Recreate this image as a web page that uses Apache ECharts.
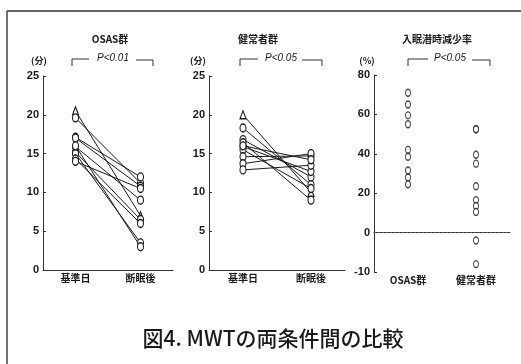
<!DOCTYPE html>
<html><head><meta charset="utf-8">
<script src="https://cdn.jsdelivr.net/npm/echarts@6/dist/echarts.min.js"></script>
<style>html,body{margin:0;padding:0;background:#fff}#c{width:521px;height:364px}</style>
</head><body><div id="c"></div>
<script>
const dayCategories = ['基準日', '断眠後'];
const groupCategories = ['OSAS群', '健常者群'];
const osasBase = [20.5, 19.6, 17.1, 17.0, 15.9, 15.2, 15.0, 14.3, 14.0, 16.0];
const osasAfter = [7.0, 11.2, 12.0, 10.8, 9.0, 6.5, 3.5, 6.0, 10.5, 3.0];
const healthyBase = [20.0, 18.3, 16.8, 16.4, 15.9, 15.5, 14.6, 13.7, 12.9, 16.0];
const healthyAfter = [10.0, 11.0, 12.0, 9.0, 12.7, 10.5, 14.7, 15.0, 13.5, 14.2];
const osasRate = [71, 65, 59.5, 55, 42, 38.5, 31.5, 28, 24.5];
const healthyRate = [52.5, 52.5, 39.5, 35, 23.5, 16.5, 13.5, 10.5, -4, -16];
const minTicks = [0, 5, 10, 15, 20, 25];
const pctTickValues = [-20, 0, 20, 40, 60, 80];
const pctTickLabels = ['-10', '0', '20', '40', '60', '80'];

const CJK = '"Noto Sans CJK JP", sans-serif';
const LAT = '"Liberation Sans", Arial, sans-serif';
const ink = '#1a1a1a';

function xAx(gi, cats) {
  return {
    type: 'category', gridIndex: gi, data: cats, boundaryGap: true,
    axisLine: { lineStyle: { color: '#333', width: 1 } },
    axisTick: { inside: true, length: 4, lineStyle: { color: '#333' } },
    axisLabel: { fontSize: 10, color: ink, fontFamily: CJK, margin: 3, fontWeight: 'bold' }
  };
}
function yAx(gi, min, max, interval, extra) {
  return Object.assign({
    type: 'value', gridIndex: gi, min: min, max: max, interval: interval,
    axisLine: { show: true, lineStyle: { color: '#333', width: 1 } },
    axisTick: { show: true, inside: true, length: 3, lineStyle: { color: '#333' } },
    axisLabel: { fontSize: 11, color: ink, fontFamily: LAT, fontWeight: 'bold', margin: 4 },
    splitLine: { show: false }
  }, extra || {});
}

const series = [];
function pairSeries(base, after, xi) {
  base.forEach((b, i) => {
    const sym = i === 0 ? 'triangle' : 'circle';
    series.push({
      type: 'line', xAxisIndex: xi, yAxisIndex: xi,
      data: [b, after[i]],
      symbol: sym, symbolSize: [6, 8],
      showSymbol: true,
      lineStyle: { color: ink, width: 1 },
      itemStyle: { color: '#fff', borderColor: ink, borderWidth: 1.2 },
      silent: true, animation: false, z: 2
    });
  });
}
pairSeries(osasBase, osasAfter, 0);
pairSeries(healthyBase, healthyAfter, 1);

series.push({
  type: 'scatter', xAxisIndex: 2, yAxisIndex: 2,
  data: osasRate.map(v => [0, v]),
  symbol: 'circle', symbolSize: [5, 7],
  itemStyle: { color: '#fff', borderColor: ink, borderWidth: 1.2 },
  animation: false,
  markLine: {
    silent: true, symbol: 'none', label: { show: false },
    lineStyle: { type: [2, 2], color: '#555', width: 1 },
    data: [{ yAxis: 0 }]
  }
});
series.push({
  type: 'scatter', xAxisIndex: 2, yAxisIndex: 2,
  data: healthyRate.map(v => [1, v]),
  symbol: 'circle', symbolSize: [5, 7],
  itemStyle: { color: '#fff', borderColor: ink, borderWidth: 1.2 },
  animation: false
});

function txt(x, y, s, size, font, extra) {
  return { type: 'text', x: x, y: y, style: Object.assign({ text: s, fontSize: size, fontFamily: font, fill: ink, align: 'center', verticalAlign: 'middle', fontWeight: 'bold' }, extra || {}) };
}
function bracket(l, r, t1, t2, txtCenter, label) {
  return [
    { type: 'polyline', shape: { points: [[l, 66], [l, 59], [t1, 59]] }, style: { stroke: '#333', lineWidth: 1, fill: null } },
    { type: 'polyline', shape: { points: [[t2, 60], [r, 60], [r, 66]] }, style: { stroke: '#333', lineWidth: 1, fill: null } },
    { type: 'text', x: txtCenter, y: 58, style: { text: label, fontSize: 10, fontFamily: LAT, fill: ink, align: 'center', verticalAlign: 'middle', fontStyle: 'italic' } }
  ];
}

const graphic = [
  { type: 'line', shape: { x1: 7, y1: 11, x2: 521, y2: 11 }, style: { stroke: '#333', lineWidth: 1.5 } },
  { type: 'line', shape: { x1: 7, y1: 11, x2: 7, y2: 364 }, style: { stroke: '#444', lineWidth: 1.5 } },
  txt(110, 39, 'OSAS群', 10, CJK),
  txt(258, 39, '健常者群', 10, CJK),
  txt(437, 39, '入眠潜時減少率', 10, CJK),
  txt(39, 61, '(分)', 9, CJK),
  txt(198, 61, '(分)', 9, CJK),
  txt(367, 61, '(%)', 9, CJK),
  txt(273, 338, '図4. MWTの両条件間の比較', 21, CJK, { fontWeight: 500 })
].concat(
  bracket(72, 153, 89, 136, 113, 'P<0.01'),
  bracket(240, 322, 258, 302, 281, 'P<0.05'),
  bracket(408, 490, 428, 472, 450, 'P<0.05')
);

const option = {
  backgroundColor: '#fff',
  animation: false,
  grid: [
    { left: 43, top: 76, width: 130, height: 194 },
    { left: 209, top: 76, width: 136, height: 194 },
    { left: 374, top: 75, width: 136, height: 197 }
  ],
  xAxis: [xAx(0, dayCategories), xAx(1, dayCategories), xAx(2, groupCategories)],
  yAxis: [
    yAx(0, minTicks[0], minTicks[minTicks.length - 1], 5),
    yAx(1, minTicks[0], minTicks[minTicks.length - 1], 5),
    yAx(2, pctTickValues[0], pctTickValues[pctTickValues.length - 1], 20, {
      axisLabel: {
        fontSize: 11, color: ink, fontFamily: LAT, fontWeight: 'bold', margin: 4,
        formatter: v => { const k = pctTickValues.indexOf(v); return k >= 0 ? pctTickLabels[k] : ''; }
      }
    })
  ],
  series: series,
  graphic: graphic
};
const chart = echarts.init(document.getElementById('c'));
chart.setOption(option);
</script></body></html>
